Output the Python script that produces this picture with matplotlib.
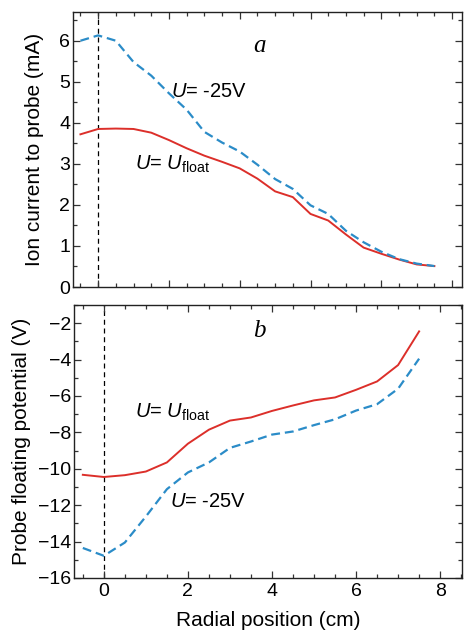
import matplotlib
matplotlib.use("Agg")
import matplotlib.pyplot as plt
from matplotlib.ticker import MultipleLocator

plt.rcParams["font.family"] = ["Liberation Sans", "DejaVu Sans"]
plt.rcParams["mathtext.fontset"] = "custom"
plt.rcParams["mathtext.rm"] = "Liberation Sans"
plt.rcParams["mathtext.it"] = "Liberation Sans:italic"

# panel a: ion current (mA); x in the top panel's own axis units
x_a = [-0.5, 0, 0.5, 1.0, 1.5, 2.0, 2.5, 3.0, 3.5, 4.0, 4.5, 5.0, 5.5, 6.0, 6.5,
       7.0, 7.5, 8.0, 8.5, 9.0, 9.5]
i_m25 = [6.0, 6.13, 6.0, 5.48, 5.15, 4.72, 4.32, 3.78, 3.52, 3.30, 2.98, 2.63, 2.39,
         1.99, 1.78, 1.37, 1.09, 0.86, 0.68, 0.57, 0.51]
i_float = [3.72, 3.85, 3.86, 3.85, 3.76, 3.58, 3.38, 3.20, 3.05, 2.89, 2.64, 2.33, 2.19,
           1.78, 1.62, 1.28, 0.96, 0.81, 0.67, 0.55, 0.51]

# panel b: floating potential (V) vs radial position (cm)
x_b = [-0.5, 0, 0.5, 1.0, 1.5, 2.0, 2.5, 3.0, 3.5, 4.0, 4.5, 5.0, 5.5, 6.0, 6.5, 7.0, 7.5]
v_float = [-10.33, -10.45, -10.35, -10.15, -9.65, -8.62, -7.85, -7.35, -7.18, -6.82,
           -6.52, -6.24, -6.08, -5.66, -5.2, -4.3, -2.45]
v_m25 = [-14.35, -14.78, -14.05, -12.62, -11.12, -10.2, -9.65, -8.85, -8.5, -8.12,
         -7.95, -7.6, -7.28, -6.8, -6.45, -5.6, -3.95]

red = "#dc2f2a"
blue = "#2b8cc8"
fs_tick = 14
fs_lab = 15
fs_txt = 14.5

fig = plt.figure(figsize=(4.67, 6.34), dpi=100)
ax1 = fig.add_axes([73/467, (634-287)/634, 389/467, 275/634])
ax2 = fig.add_axes([74/467, (634-578)/634, 388/467, 273/634])

for ax in (ax1, ax2):
    ax.axvline(0, color="black", lw=0.9, ls=(0, (4, 3)), zorder=1)
    ax.tick_params(which="both", direction="in", top=True, right=True, labelsize=fs_tick,
                   width=0.9, color="#333333")
    ax.tick_params(which="major", length=5)
    ax.tick_params(which="minor", length=3)
    ax.tick_params(axis="y", pad=2)
    for s in ax.spines.values():
        s.set_linewidth(1.0)
        s.set_color("#222222")

ax1.plot(x_a, i_float, color=red, lw=1.4)
ax1.plot(x_a, i_m25, color=blue, lw=1.6, ls=(0, (4, 2.2)))
ax1.set_xlim(-0.71, 10.28)
ax1.set_ylim(0, 6.7)
ax1.xaxis.set_major_locator(MultipleLocator(2))
ax1.xaxis.set_minor_locator(MultipleLocator(0.5))
ax1.yaxis.set_major_locator(MultipleLocator(1))
ax1.yaxis.set_minor_locator(MultipleLocator(0.5))
ax1.set_xticklabels([])
ax1.set_ylabel("Ion current to probe (mA)", fontsize=fs_lab, labelpad=11)
ax1.text(2.06, 4.76, r"$U$= -25V", fontsize=fs_txt, va="center")
ax1.text(1.05, 2.98, r"$U$= $U_{\rm float}$", fontsize=fs_txt, va="center")
ax1.text(4.56, 5.86, "a", fontsize=18, style="italic", family="Liberation Serif",
         ha="center", va="center")

ax2.plot(x_b, v_float, color=red, lw=1.4)
ax2.plot(x_b, v_m25, color=blue, lw=1.6, ls=(0, (4, 2.2)))
ax2.set_xlim(-0.71, 8.52)
ax2.set_ylim(-16, -1)
ax2.xaxis.set_major_locator(MultipleLocator(2))
ax2.xaxis.set_minor_locator(MultipleLocator(0.5))
ax2.yaxis.set_major_locator(MultipleLocator(2))
ax2.yaxis.set_minor_locator(MultipleLocator(1))
ax2.set_ylabel("Probe floating potential (V)", fontsize=fs_lab, labelpad=5)
ax2.set_xlabel("Radial position (cm)", fontsize=fs_lab, labelpad=8)
ax2.text(0.74, -6.9, r"$U$= $U_{\rm float}$", fontsize=fs_txt, va="center")
ax2.text(1.57, -11.82, r"$U$= -25V", fontsize=fs_txt, va="center")
ax2.text(3.7, -2.45, "b", fontsize=18, style="italic", family="Liberation Serif",
         ha="center", va="center")

fig.savefig("out.png", dpi=100)
